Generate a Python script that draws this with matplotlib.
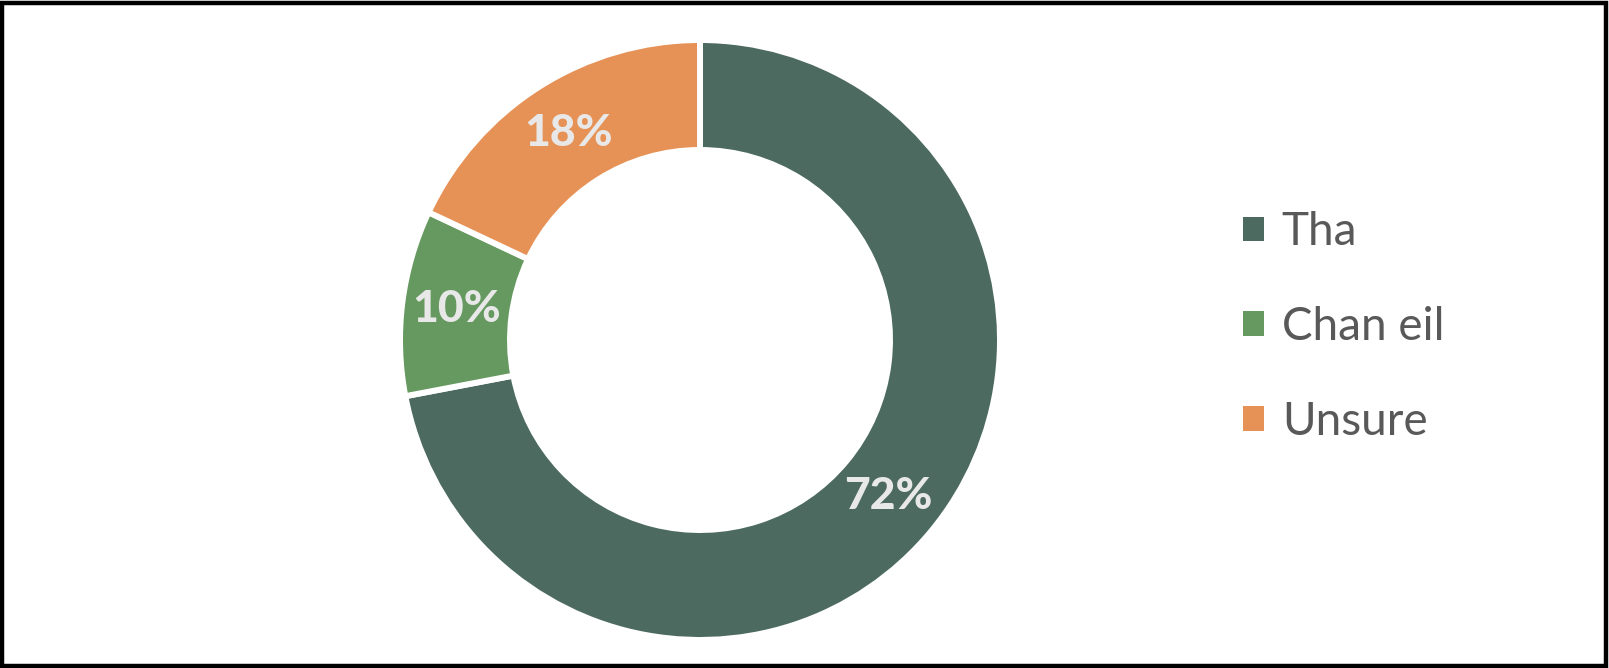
import matplotlib.pyplot as plt
from matplotlib.patches import Rectangle

# data
labels = ["Tha", "Chan eil", "Unsure"]
values = [72, 10, 18]
colors = ["#4C6A60", "#66995F", "#E69257"]

W, H = 1609, 668
fig = plt.figure(figsize=(W / 100, H / 100), dpi=100)
ax = fig.add_axes([0, 0, 1, 1])

cx, cy = 700, H - 340
r_out, r_in = 300, 190
wedges, texts, autotexts = ax.pie(
    values,
    colors=colors,
    startangle=90,
    counterclock=False,
    center=(cx, cy),
    radius=r_out,
    frame=True,
    wedgeprops=dict(width=r_out - r_in, edgecolor="white", linewidth=4.3),
    autopct=lambda p: f"{p:.0f}%",
    pctdistance=(r_out + r_in) / 2 / r_out,
    textprops=dict(color="#E8E8E8", fontsize=32, fontweight=900, family="Lato"),
)
ax.set_xlim(0, W)
ax.set_ylim(0, H)
ax.set_aspect("equal")
ax.axis("off")

leg = ax.legend(
    wedges, labels,
    loc="center left",
    bbox_to_anchor=(1202 / W, 1 - 327 / H),
    frameon=False,
    prop=dict(family="Lato", size=33),
    labelcolor="#595959",
    handlelength=0.46, handleheight=0.46,
    handletextpad=0.38,
    labelspacing=1.15,
)
for h in leg.legend_handles:
    h.set_linewidth(0)

# outer frame
fig.add_artist(Rectangle((1.5 / W, 2.5 / H), (W - 4.5) / W, (H - 5) / H,
                         transform=fig.transFigure, fill=False,
                         edgecolor="black", linewidth=3.2))

fig.savefig("out.png", dpi=100, facecolor="white")
